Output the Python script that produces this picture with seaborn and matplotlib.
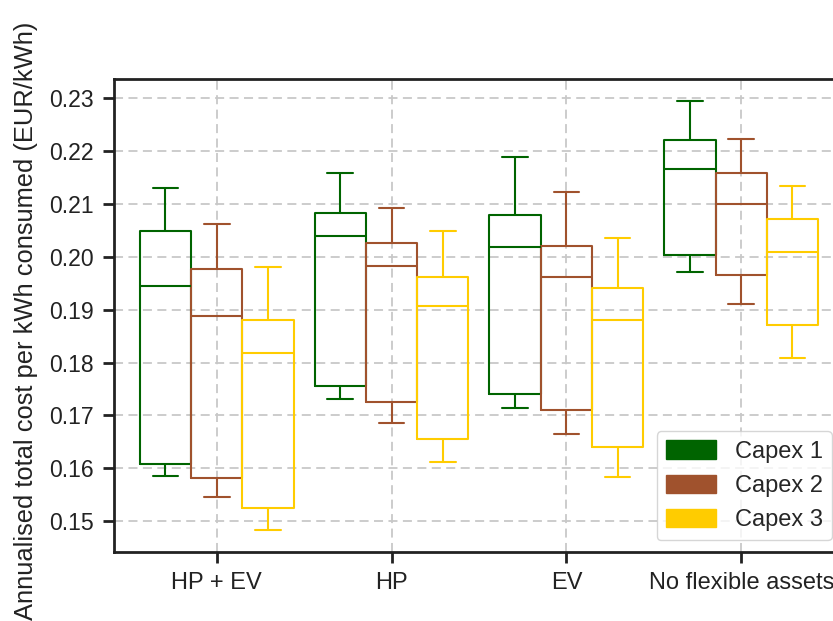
import numpy as np
import pandas as pd
import matplotlib
matplotlib.use("Agg")
import matplotlib.pyplot as plt
import seaborn as sns
from matplotlib.patches import Patch

scenarios = ["HP + EV", "HP", "EV", "No flexible assets"]
capex_levels = ["Capex 1", "Capex 2", "Capex 3"]
colors = ["#006400", "#A0522D", "#FFCC00"]

# five-number summaries [low whisker, Q1, median, Q3, high whisker]
capex1 = [
    [0.1585, 0.1607, 0.1944, 0.2049, 0.2130],
    [0.1731, 0.1755, 0.2039, 0.2083, 0.2158],
    [0.1713, 0.1741, 0.2018, 0.2080, 0.2189],
    [0.1971, 0.2003, 0.2167, 0.2221, 0.2295],
]
capex2 = [
    [0.1545, 0.1582, 0.1889, 0.1978, 0.2063],
    [0.1686, 0.1726, 0.1982, 0.2027, 0.2093],
    [0.1665, 0.1711, 0.1962, 0.2020, 0.2122],
    [0.1910, 0.1965, 0.2100, 0.2159, 0.2224],
]
capex3 = [
    [0.1482, 0.1525, 0.1818, 0.1881, 0.1980],
    [0.1611, 0.1656, 0.1907, 0.1962, 0.2049],
    [0.1583, 0.1640, 0.1881, 0.1941, 0.2035],
    [0.1808, 0.1871, 0.2009, 0.2071, 0.2135],
]
yticks = [0.15, 0.16, 0.17, 0.18, 0.19, 0.20, 0.21, 0.22, 0.23]

rows = []
for cap, series in zip(capex_levels, [capex1, capex2, capex3]):
    for scen, vals in zip(scenarios, series):
        for v in vals:
            rows.append({"scenario": scen, "capex": cap, "cost": v})
df = pd.DataFrame(rows)

sns.set_theme(style="ticks")
plt.rcParams["font.family"] = ["Liberation Sans", "DejaVu Sans"]
plt.rcParams["font.size"] = 17

fig = plt.figure(figsize=(8.33, 6.21), dpi=100)
ax = fig.add_axes([0.137, 0.111, 0.876, 0.761])

sns.boxplot(data=df, x="scenario", y="cost", hue="capex", order=scenarios,
            hue_order=capex_levels, palette=colors, fill=False, whis=(0, 100),
            width=0.88, gap=0, linewidth=1.5, ax=ax, legend=False)

ax.set_xlim(-0.587, 3.587)
ax.set_ylim(0.1441, 0.2336)
ax.set_yticks(yticks)
ax.set_yticklabels([f"{t:.2f}" for t in yticks])
ax.grid(True, linestyle=(0, (5, 3)), color="#c8c8c8", linewidth=1.3)
ax.set_axisbelow(True)
ax.set_xlabel("")
ax.set_ylabel("Annualised total cost per kWh consumed (EUR/kWh)", fontsize=18.4,
              color="#222222")
ax.yaxis.set_label_coords(-0.104, 0.49)
ax.tick_params(axis="both", length=8, width=2.0, pad=6.5, colors="#222222",
               labelcolor="#222222")
ax.tick_params(axis="x", labelsize=17)
ax.tick_params(axis="y", labelsize=16.6)
for s in ax.spines.values():
    s.set_linewidth(2.0)
    s.set_color("#222222")

handles = [Patch(facecolor=c, edgecolor=c, label=l) for c, l in zip(colors, capex_levels)]
ax.legend(handles=handles, loc="lower right", fontsize=17, frameon=True,
          fancybox=True, edgecolor="#cccccc", handlelength=2.1, handleheight=0.8)

fig.savefig("out.png", dpi=100)
